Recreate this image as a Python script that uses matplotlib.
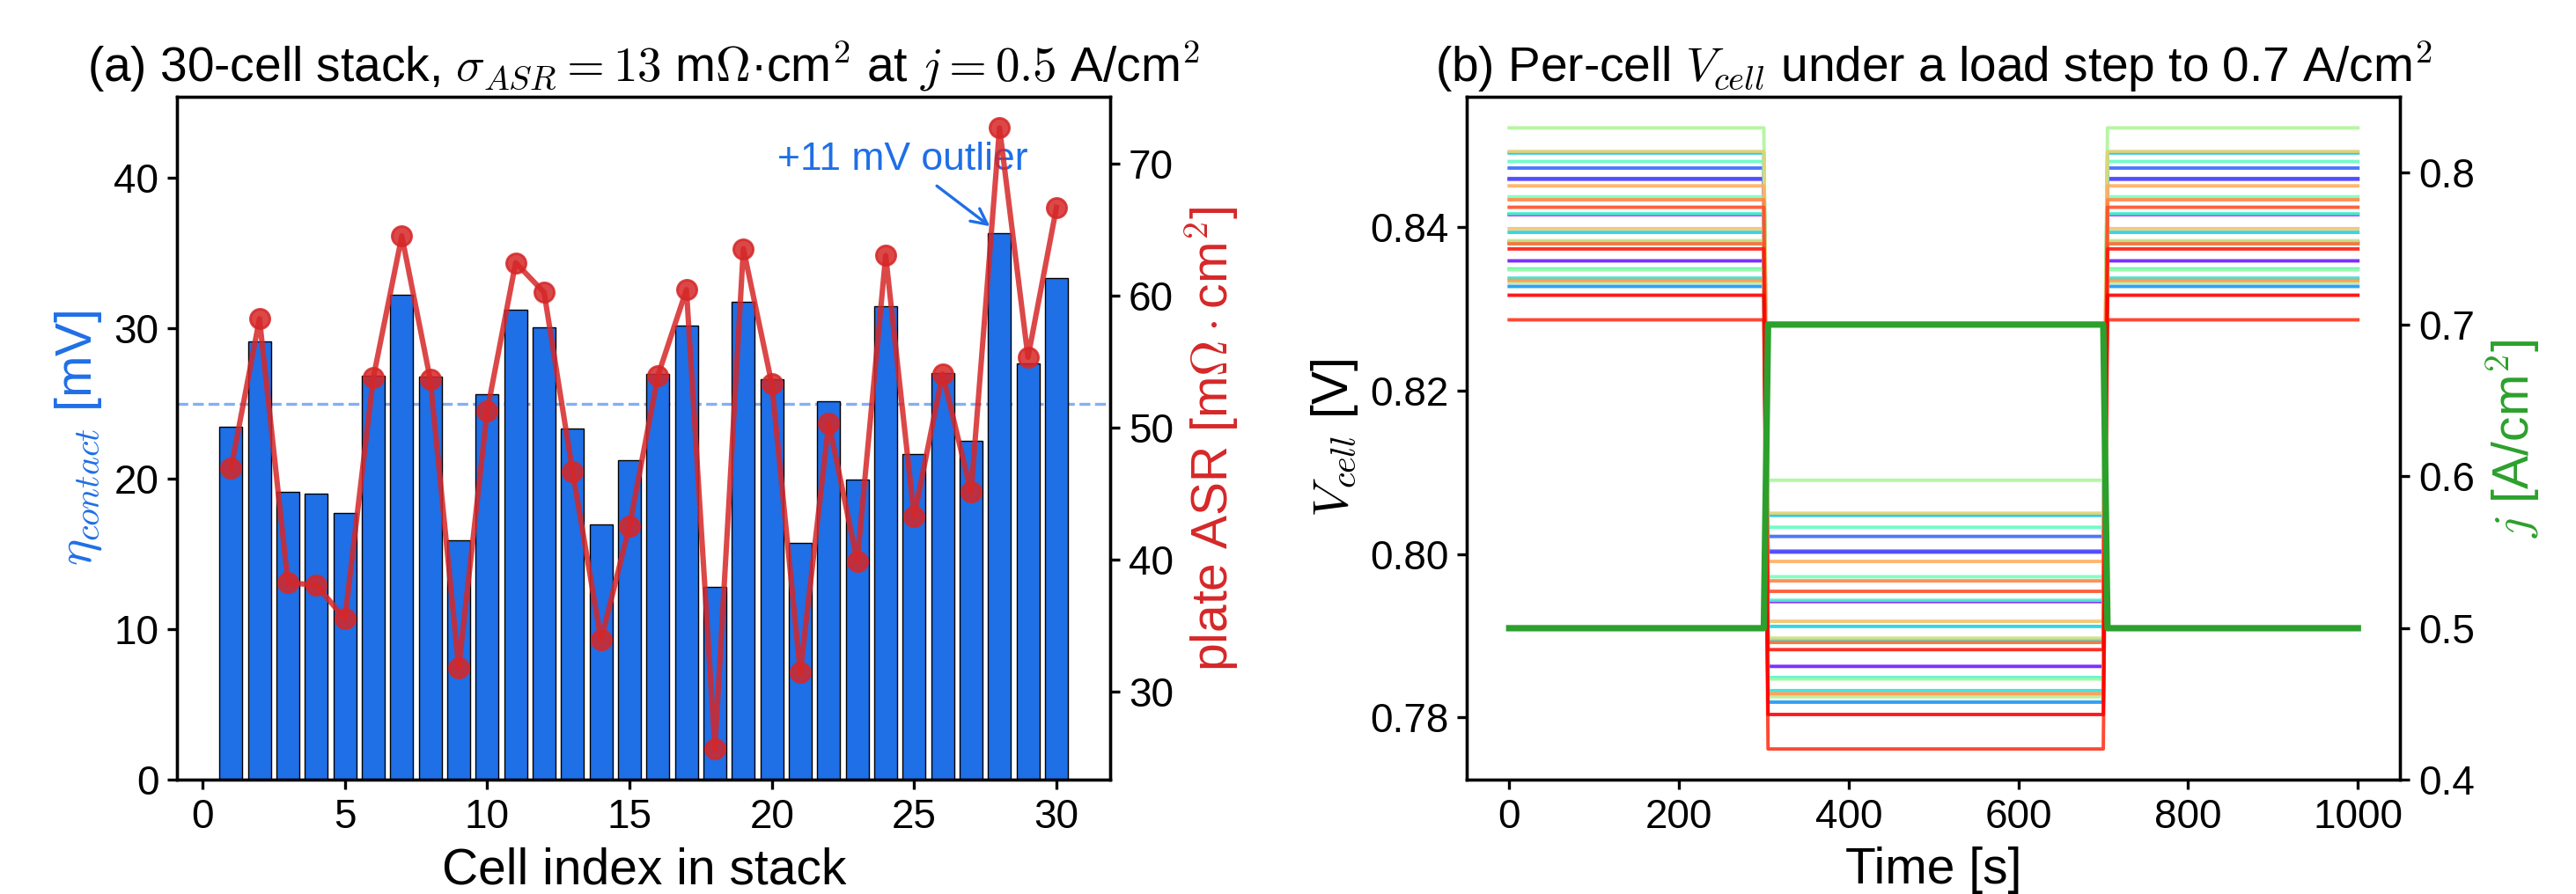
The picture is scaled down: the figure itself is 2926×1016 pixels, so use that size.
import numpy as np
import matplotlib
matplotlib.use("Agg")
import matplotlib.pyplot as plt
from matplotlib.ticker import MultipleLocator, FormatStrFormatter

plt.rcParams["font.family"] = ["Liberation Sans", "DejaVu Sans"]
plt.rcParams["mathtext.fontset"] = "cm"
plt.rcParams["axes.linewidth"] = 1.2
plt.rcParams["xtick.major.width"] = 1.2
plt.rcParams["ytick.major.width"] = 1.2
plt.rcParams["xtick.major.size"] = 4
plt.rcParams["ytick.major.size"] = 4

# ---- data ----
cells = list(range(1, 31))
eta_contact_mV = [23.45, 29.12, 19.13, 19.04, 17.76, 26.89, 32.25, 26.82, 15.91, 25.63,
                  31.24, 30.11, 23.34, 16.96, 21.28, 26.97, 30.22, 12.84, 31.77, 26.65,
                  15.73, 25.18, 19.94, 31.51, 21.64, 27.03, 22.56, 36.34, 27.66, 33.33]
plate_asr = [46.90, 58.24, 38.26, 38.08, 35.52, 53.78, 64.50, 53.64, 31.82, 51.26,
             62.48, 60.22, 46.68, 33.92, 42.56, 53.94, 60.44, 25.68, 63.54, 53.30,
             31.46, 50.36, 39.88, 63.02, 43.28, 54.06, 45.12, 72.68, 55.32, 66.66]
eta_mean_mV = 25.0

# per-cell voltage at 0.5 A/cm2 (base load) and at 0.7 A/cm2 (load step)
v_base = [0.84155, 0.83588, 0.84587, 0.84596, 0.84724, 0.83811, 0.83275, 0.83818, 0.84909, 0.83937,
          0.83376, 0.83489, 0.84166, 0.84804, 0.84372, 0.83803, 0.83478, 0.85216, 0.83323, 0.83835,
          0.84927, 0.83982, 0.84506, 0.83349, 0.84336, 0.83797, 0.84244, 0.82866, 0.83734, 0.83167]
v_step = [0.79417, 0.78623, 0.80022, 0.80034, 0.80214, 0.78935, 0.78185, 0.78945, 0.80473, 0.79112,
          0.78326, 0.78485, 0.79432, 0.80326, 0.79721, 0.78924, 0.78469, 0.80902, 0.78252, 0.78969,
          0.80498, 0.79175, 0.79908, 0.78289, 0.79670, 0.78916, 0.79542, 0.77612, 0.78828, 0.78034]

time_s = [0, 300, 305, 700, 705, 1000]
load_phase = [0, 0, 1, 1, 0, 0]          # 0 = base load, 1 = stepped load
j_load = [0.5, 0.5, 0.7, 0.7, 0.5, 0.5]

blue = "#1f6fe6"
red = "#d62728"
green = "#2ca02c"
TICK = 16.5
LAB = 20.5
TTL = 19.8

fig = plt.figure(figsize=(14.63, 5.08), dpi=200)

# ---- (a) contact overpotential per cell ----
ax = fig.add_axes([0.0688, 0.1275, 0.3622, 0.7642])
ax.bar(cells, eta_contact_mV, width=0.8, color=blue, edgecolor="black", linewidth=0.5)
ax.axhline(eta_mean_mV, color=blue, alpha=0.55, ls="--", lw=1.2, zorder=0.5)
ax.set_ylim(0, 45.4)
ax.set_xlabel("Cell index in stack", fontsize=LAB)
ax.set_ylabel(r"$\eta_{contact}$ [mV]", color=blue, fontsize=LAB)
ax.tick_params(labelsize=TICK)
ax.set_title(r"(a) 30-cell stack, $\sigma_{ASR}=13$ m$\Omega$·cm$^2$ at $j=0.5$ A/cm$^2$",
             fontsize=TTL)
ax.annotate("+11 mV outlier", xy=(27.8, 36.6), xytext=(24.6, 41.2),
            ha="center", va="center", color=blue, fontsize=16,
            arrowprops=dict(arrowstyle="->", color=blue, lw=1.2))

axr = ax.twinx()
axr.plot(cells, plate_asr, "-o", color=red, alpha=0.85, lw=2.2, ms=8)
axr.set_ylabel(r"plate ASR [m$\Omega\cdot$cm$^2$]", color=red, fontsize=LAB)
axr.tick_params(labelsize=TICK)

# ---- (b) per-cell voltage under load step ----
bx = fig.add_axes([0.5694, 0.1275, 0.3624, 0.7642])
colors = plt.cm.rainbow(np.linspace(0, 1, len(cells)))
for i in range(len(cells)):
    v = [v_step[i] if p else v_base[i] for p in load_phase]
    bx.plot(time_s, v, color=colors[i], lw=1.4, alpha=0.9)
bx.yaxis.set_major_locator(MultipleLocator(0.02))
bx.yaxis.set_major_formatter(FormatStrFormatter("%.2f"))
bx.set_xlabel("Time [s]", fontsize=LAB)
bx.set_ylabel(r"$V_{cell}$ [V]", fontsize=LAB)
bx.tick_params(labelsize=TICK)
bx.set_title(r"(b) Per-cell $V_{cell}$ under a load step to 0.7 A/cm$^2$", fontsize=TTL)

bxr = bx.twinx()
bxr.plot(time_s, j_load, color=green, lw=2.6)
bxr.set_ylim(0.4, 0.85)
bxr.yaxis.set_major_locator(MultipleLocator(0.1))
bxr.yaxis.set_major_formatter(FormatStrFormatter("%.1f"))
bxr.set_ylabel(r"$j$ [A/cm$^2$]", color=green, fontsize=LAB)
bxr.tick_params(labelsize=TICK)

fig.savefig("out.png", dpi=200)
